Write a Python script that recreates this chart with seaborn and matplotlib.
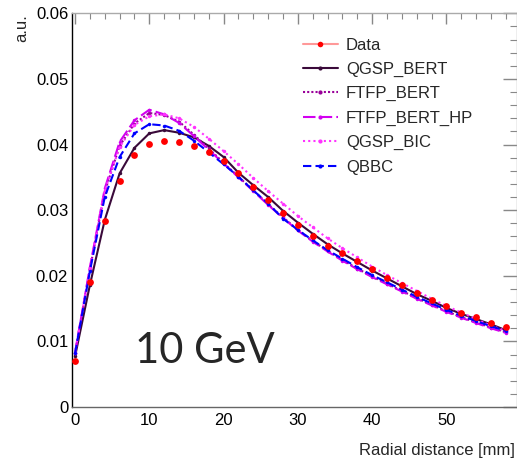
import matplotlib
matplotlib.use("Agg")
import matplotlib.pyplot as plt
from matplotlib.lines import Line2D
from matplotlib.ticker import MultipleLocator, FuncFormatter
import seaborn as sns
import pandas as pd

# ---------------- data ----------------
radius = [0, 2, 4, 6, 8, 10, 12, 14, 16, 18, 20, 22, 24, 26, 28,
          30, 32, 34, 36, 38, 40, 42, 44, 46, 48, 50, 52, 54, 56, 58]

data_vals = [0.0070, 0.0191, 0.0283, 0.0345, 0.0384, 0.0401, 0.0405, 0.0404, 0.0398, 0.0389,
             0.0375, 0.0356, 0.0336, 0.0316, 0.0295, 0.0277, 0.0260, 0.0246, 0.0234, 0.0222,
             0.0210, 0.0197, 0.0186, 0.0174, 0.0163, 0.0154, 0.0144, 0.0137, 0.0128, 0.0122]

qgsp_bert = [0.0077, 0.0186, 0.0285, 0.0356, 0.0395, 0.0417, 0.0422, 0.0418, 0.0411, 0.0398,
             0.0381, 0.0357, 0.0338, 0.0320, 0.0299, 0.0281, 0.0264, 0.0248, 0.0234, 0.0221,
             0.0208, 0.0196, 0.0184, 0.0172, 0.0162, 0.0151, 0.0142, 0.0134, 0.0126, 0.0117]

ftfp_bert = [0.0082, 0.0210, 0.0328, 0.0398, 0.0432, 0.0448, 0.0445, 0.0435, 0.0415, 0.0394,
             0.0372, 0.0351, 0.0330, 0.0309, 0.0289, 0.0270, 0.0253, 0.0238, 0.0224, 0.0211,
             0.0199, 0.0188, 0.0177, 0.0166, 0.0156, 0.0146, 0.0137, 0.0129, 0.0121, 0.0114]

ftfp_bert_hp = [0.0083, 0.0213, 0.0333, 0.0404, 0.0437, 0.0453, 0.0446, 0.0433, 0.0413, 0.0392,
                0.0371, 0.0350, 0.0329, 0.0308, 0.0288, 0.0269, 0.0252, 0.0237, 0.0223, 0.0210,
                0.0198, 0.0187, 0.0176, 0.0165, 0.0155, 0.0145, 0.0136, 0.0128, 0.0120, 0.0113]

qgsp_bic = [0.0083, 0.0212, 0.0330, 0.0396, 0.0430, 0.0443, 0.0446, 0.0440, 0.0427, 0.0409,
            0.0390, 0.0370, 0.0349, 0.0329, 0.0310, 0.0291, 0.0274, 0.0257, 0.0242, 0.0228,
            0.0214, 0.0201, 0.0189, 0.0177, 0.0165, 0.0154, 0.0144, 0.0134, 0.0124, 0.0116]

qbbc = [0.0082, 0.0207, 0.0320, 0.0381, 0.0417, 0.0431, 0.0429, 0.0421, 0.0406, 0.0388,
        0.0370, 0.0351, 0.0330, 0.0310, 0.0287, 0.0270, 0.0254, 0.0239, 0.0226, 0.0213,
        0.0201, 0.0190, 0.0179, 0.0168, 0.0158, 0.0148, 0.0139, 0.0131, 0.0123, 0.0116]

models = ["QGSP_BERT", "FTFP_BERT", "FTFP_BERT_HP", "QGSP_BIC", "QBBC"]
model_vals = [qgsp_bert, ftfp_bert, ftfp_bert_hp, qgsp_bic, qbbc]
y_ticks = [0, 0.01, 0.02, 0.03, 0.04, 0.05, 0.06]
x_ticks = [0, 10, 20, 30, 40, 50]

# ---------------- style ----------------
sns.set_theme(style="white")
plt.rcParams["font.family"] = ["Liberation Sans", "DejaVu Sans"]

colors = {"QGSP_BERT": "#3a0a3a", "FTFP_BERT": "#990099", "FTFP_BERT_HP": "#d200f0",
          "QGSP_BIC": "#ff33ff", "QBBC": "#0000ff"}
dashes = {"QGSP_BERT": "", "FTFP_BERT": (1, 1), "FTFP_BERT_HP": (6, 2),
          "QGSP_BIC": (1, 1.5), "QBBC": (4, 2)}
markers = {m: "o" for m in models}

rows = []
for m, vals in zip(models, model_vals):
    for r, v in zip(radius, vals):
        rows.append({"r": r, "v": v, "model": m})
df_mc = pd.DataFrame(rows)
df_data = pd.DataFrame({"r": radius, "v": data_vals})

fig = plt.figure(figsize=(5.17, 4.61), dpi=100)
ax = fig.add_axes([71.7 / 517, 1 - 407 / 461, (517 - 71.7) / 517, (407 - 13.3) / 461])

sns.lineplot(data=df_mc, x="r", y="v", hue="model", style="model", hue_order=models,
             style_order=models, palette=colors, dashes=dashes, markers=markers,
             markersize=2.5, markeredgewidth=0, linewidth=1.5, legend=False, ax=ax)
sns.scatterplot(data=df_data, x="r", y="v", color="#ff0000", s=24, linewidth=0,
                legend=False, ax=ax, zorder=5)

ax.set_xlim(-0.45, 59.5)
ax.set_ylim(0, 0.06)
ax.set_xticks(x_ticks)
ax.set_yticks(y_ticks)
ax.xaxis.set_minor_locator(MultipleLocator(2))
ax.yaxis.set_minor_locator(MultipleLocator(0.002))
ax.yaxis.set_major_formatter(FuncFormatter(lambda v, p: "0" if abs(v) < 1e-9 else f"{v:.2f}"))
ax.tick_params(axis="both", which="both", direction="in", colors="#888888",
               labelcolor="black", labelsize=12, top=True, right=True)
ax.tick_params(axis="y", which="major", length=10, width=1.0, pad=2.5)
ax.tick_params(axis="y", which="minor", length=5, width=0.8)
ax.tick_params(axis="x", which="major", length=8, width=1.0, pad=4)
ax.tick_params(axis="x", which="minor", length=4, width=0.8)

for side, col in [("left", "black"), ("bottom", "#666666"), ("top", "#aaaaaa"), ("right", "#aaaaaa")]:
    ax.spines[side].set_visible(True)
    ax.spines[side].set_color(col)
    ax.spines[side].set_linewidth(1.0)

ax.set_xlabel("Radial distance [mm]", fontsize=12, loc="right")
ax.xaxis.set_label_coords(0.9955, -0.0914)
ax.xaxis.label.set_va("top")
ax.set_ylabel("")
fig.text(22 / 517, 1 - 14 / 461, "a.u.", rotation=90, ha="center", va="top", fontsize=12)

fig.text(135 / 517, 1 - 363.3 / 461, "10 GeV", fontsize=30, family=["Lato", "DejaVu Sans"],
         ha="left", va="baseline")

# legend
handles = [Line2D([], [], color="#ff9999", lw=1.5, marker="o", markersize=4,
                  markerfacecolor="#ff0000", markeredgewidth=0)]
for m in models:
    d = dashes[m]
    h = Line2D([], [], color=colors[m], lw=1.5, marker="o", markersize=3,
               markeredgewidth=0)
    if d:
        h.set_dashes(d)
    handles.append(h)
labels = ["Data"] + models
ax.legend(handles, labels, loc="upper left", bbox_to_anchor=(302.7 / 517, 1 - 37.5 / 461),
          bbox_transform=fig.transFigure, frameon=False, fontsize=12, borderpad=0,
          borderaxespad=0, handlelength=2.1, handletextpad=0.5, labelspacing=0.56)

fig.savefig("out.png", dpi=100)
